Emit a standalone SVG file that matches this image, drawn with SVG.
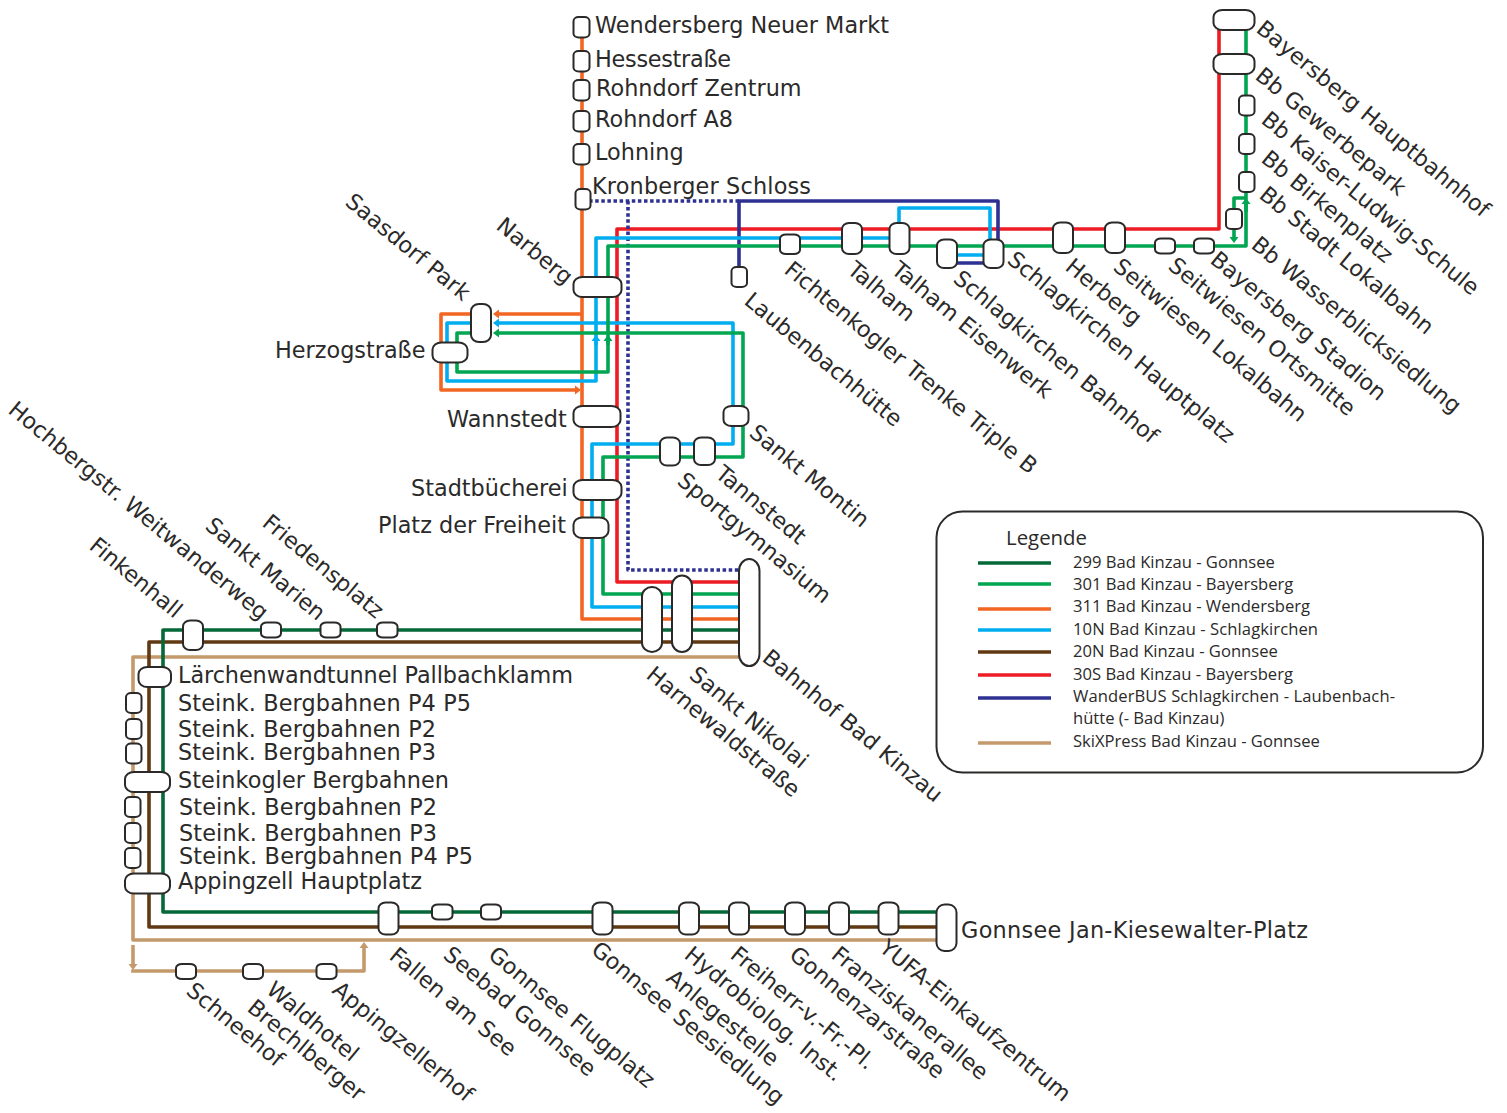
<svg xmlns="http://www.w3.org/2000/svg" width="1507" height="1113" viewBox="0 0 1507 1113">
<style>
.n{fill:#fff;stroke:#2b2a29;stroke-width:2}
.t{font-family:"DejaVu Sans",sans-serif;font-size:22.35px;fill:#2b2a29}
.l{font-family:"Open Sans","Noto Sans",sans-serif;font-size:16.6px;fill:#2b2a29}
.c{fill:none;stroke-width:3.6;stroke-linejoin:round}
.dg{stroke:#056839}.gr{stroke:#00a651}.or{stroke:#f26522}.bl{stroke:#00aeef}.br{stroke:#603913}.re{stroke:#ed1c24}.na{stroke:#2e3192}.ta{stroke:#c49a6c}
</style>
<defs>
<marker id="agr" markerUnits="userSpaceOnUse" markerWidth="12" markerHeight="12" refX="8" refY="6" orient="auto"><path d="M11 6L5 1.500V10.500Z" fill="#00a651"/></marker>
<marker id="aor" markerUnits="userSpaceOnUse" markerWidth="12" markerHeight="12" refX="8" refY="6" orient="auto"><path d="M11 6L5 1.500V10.500Z" fill="#f26522"/></marker>
<marker id="abl" markerUnits="userSpaceOnUse" markerWidth="12" markerHeight="12" refX="8" refY="6" orient="auto"><path d="M11 6L5 1.500V10.500Z" fill="#00aeef"/></marker>
<marker id="ata" markerUnits="userSpaceOnUse" markerWidth="12" markerHeight="12" refX="8" refY="6" orient="auto"><path d="M11 6L5 1.500V10.500Z" fill="#c49a6c"/></marker>
</defs>
<g id="connectors">
<path class="c ta" d="M740 657H133V940H945"/>
<path class="c ta" d="M133 945V967" marker-end="url(#ata)"/>
<path class="c ta" d="M131.200 971H364V945" marker-end="url(#ata)"/>
<path class="c br" d="M740 642H149V927H945"/>
<path class="c dg" d="M740 630H163V912H945"/>
<path class="c or" d="M582 20V619H740"/>
<path class="c or" d="M582 314H496" marker-end="url(#aor)"/>
<path class="c or" d="M475 314H441V390H578" marker-end="url(#aor)"/>
<path class="c re" d="M740 582H617V229H1219V20"/>
<path class="c na" d="M739 277V201H998V250M957 263H993"/>
<path class="c na" stroke-dasharray="3.500 2.600" d="M583 201H739M628 201V570H740"/>
<path class="c bl" d="M740 607H592V444H733V323H496" marker-end="url(#abl)"/>
<path class="c bl" d="M475 323H447V381H596V238H899V208H990V255H947"/>
<path class="c bl" d="M596 345V338" marker-end="url(#abl)"/>
<path class="c gr" d="M740 594H603V457H743V333H496" marker-end="url(#agr)"/>
<path class="c gr" d="M475 333H457V372H608V246H1246V20"/>
<path class="c gr" d="M608 345V338" marker-end="url(#agr)"/>
<path class="c gr" d="M1246 212V201" marker-end="url(#agr)"/>
<path class="c gr" d="M1234 209V198H1246"/>
<path class="c gr" d="M1234 225V240" marker-end="url(#agr)"/>
</g>
<g id="n-wendersberg"><rect class="n" x="573.500" y="17" width="16" height="20.500" rx="5" ry="4"/><text class="t" x="595" y="33">Wendersberg Neuer Markt</text></g>
<g id="n-hesse"><rect class="n" x="573.500" y="51" width="16" height="20.500" rx="5" ry="4"/><text class="t" x="595" y="67" textLength="136">Hessestraße</text></g>
<g id="n-rohndorf-z"><rect class="n" x="573.500" y="80" width="16" height="20.500" rx="5" ry="4"/><text class="t" x="596" y="96">Rohndorf Zentrum</text></g>
<g id="n-rohndorf-a8"><rect class="n" x="573.500" y="111" width="16" height="20.500" rx="5" ry="4"/><text class="t" x="595" y="127">Rohndorf A8</text></g>
<g id="n-lohning"><rect class="n" x="573.500" y="144" width="16" height="20.500" rx="5" ry="4"/><text class="t" x="595" y="160">Lohning</text></g>
<g id="n-kronberger"><rect class="n" x="575.500" y="189" width="15" height="20.500" rx="5" ry="4"/><text class="t" x="592" y="194" textLength="219">Kronberger Schloss</text></g>
<g id="n-narberg"><rect class="n" x="573.500" y="277" width="48" height="20" rx="9" ry="7"/><text class="t" transform="rotate(39.500 495 228)" x="495" y="228">Narberg</text></g>
<g id="n-saasdorf"><rect class="n" x="471" y="304" width="20" height="38" rx="8" ry="7"/><text class="t" transform="rotate(39.500 344 204)" x="344" y="204">Saasdorf Park</text></g>
<g id="n-herzog"><rect class="n" x="432.500" y="342.500" width="35" height="20" rx="9" ry="7"/><text class="t" x="275" y="358">Herzogstraße</text></g>
<g id="n-wannstedt"><rect class="n" x="573.500" y="406" width="47" height="21" rx="9" ry="7"/><text class="t" x="447" y="427">Wannstedt</text></g>
<g id="n-stadtb"><rect class="n" x="573.500" y="480" width="48" height="20" rx="9" ry="7"/><text class="t" x="411" y="496">Stadtbücherei</text></g>
<g id="n-platz"><rect class="n" x="573.500" y="517.500" width="35" height="20.500" rx="9" ry="7"/><text class="t" x="378" y="533">Platz der Freiheit</text></g>
<g id="n-montin"><rect class="n" x="723.500" y="406" width="25" height="20" rx="8" ry="6"/><text class="t" transform="rotate(39.500 748 435)" x="748" y="435">Sankt Montin</text></g>
<g id="n-sportg"><rect class="n" x="660" y="437.500" width="20" height="28" rx="7" ry="6"/><text class="t" transform="rotate(39.500 676 483)" x="676" y="483">Sportgymnasium</text></g>
<g id="n-tannstedt"><rect class="n" x="694" y="437.500" width="21" height="27.500" rx="7" ry="6"/><text class="t" transform="rotate(39.500 714 476)" x="714" y="476">Tannstedt</text></g>
<g id="n-harne"><rect class="n" x="642" y="587" width="20" height="65" rx="10" ry="9"/><text class="t" transform="rotate(39.500 645 677)" x="645" y="677">Harnewaldstraße</text></g>
<g id="n-nikolai"><rect class="n" x="672" y="575.500" width="20" height="76.500" rx="10" ry="10"/><text class="t" transform="rotate(39.500 688 677)" x="688" y="677">Sankt Nikolai</text></g>
<g id="n-kinzau"><rect class="n" x="739" y="559" width="20.500" height="107" rx="10.200" ry="12"/><text class="t" transform="rotate(39.500 761 660)" x="761" y="660">Bahnhof Bad Kinzau</text></g>
<g id="n-lauben"><rect class="n" x="731.500" y="267" width="15.500" height="20" rx="5" ry="4"/><text class="t" transform="rotate(39.500 743 303)" x="743" y="303">Laubenbachhütte</text></g>
<g id="n-ficht"><rect class="n" x="780" y="234.500" width="20" height="19.500" rx="6" ry="4"/><text class="t" transform="rotate(39.500 783 272)" x="783" y="272">Fichtenkogler Trenke Triple B</text></g>
<g id="n-talham"><rect class="n" x="842" y="223" width="20" height="31" rx="7" ry="6"/><text class="t" transform="rotate(39.500 846 272)" x="846" y="272">Talham</text></g>
<g id="n-talham-e"><rect class="n" x="889.500" y="223" width="20" height="31" rx="7" ry="6"/><text class="t" transform="rotate(39.500 890 272)" x="890" y="272">Talham Eisenwerk</text></g>
<g id="n-schlag-b"><rect class="n" x="937" y="239.500" width="20" height="28.500" rx="7" ry="6"/><text class="t" transform="rotate(39.500 952 281)" x="952" y="281">Schlagkirchen Bahnhof</text></g>
<g id="n-schlag-h"><rect class="n" x="983.500" y="239.500" width="20" height="28.500" rx="7" ry="6"/><text class="t" transform="rotate(39.500 1006 262)" x="1006" y="262">Schlagkirchen Hauptplatz</text></g>
<g id="n-herberg"><rect class="n" x="1053" y="222.500" width="20" height="30.500" rx="7" ry="6"/><text class="t" transform="rotate(39.500 1064 269)" x="1064" y="269">Herberg</text></g>
<g id="n-seit-l"><rect class="n" x="1105" y="222.500" width="20" height="30.500" rx="7" ry="6"/><text class="t" transform="rotate(39.500 1112 269)" x="1112" y="269">Seitwiesen Lokalbahn</text></g>
<g id="n-seit-o"><rect class="n" x="1155" y="238.500" width="20" height="15" rx="6" ry="4"/><text class="t" transform="rotate(39.500 1167 268)" x="1167" y="268">Seitwiesen Ortsmitte</text></g>
<g id="n-bay-st"><rect class="n" x="1194" y="238.500" width="20" height="15" rx="6" ry="4"/><text class="t" transform="rotate(39.500 1209 262)" x="1209" y="262">Bayersberg Stadion</text></g>
<g id="n-bb-wass"><rect class="n" x="1226" y="209" width="16" height="20" rx="5" ry="4"/><text class="t" transform="rotate(39.500 1250 247)" x="1250" y="247">Bb Wasserblicksiedlung</text></g>
<g id="n-bb-stadt"><rect class="n" x="1239" y="172" width="15.500" height="20" rx="5" ry="4"/><text class="t" transform="rotate(39.500 1258 197)" x="1258" y="197">Bb Stadt Lokalbahn</text></g>
<g id="n-bb-birk"><rect class="n" x="1239" y="134" width="15.500" height="20" rx="5" ry="4"/><text class="t" transform="rotate(39.500 1260 161)" x="1260" y="161">Bb Birkenplatz</text></g>
<g id="n-bb-kaiser"><rect class="n" x="1239" y="95.500" width="15.500" height="20" rx="5" ry="4"/><text class="t" transform="rotate(39.500 1260 122)" x="1260" y="122">Bb Kaiser-Ludwig-Schule</text></g>
<g id="n-bb-gew"><rect class="n" x="1213.500" y="54" width="41" height="20" rx="9" ry="7"/><text class="t" transform="rotate(39.500 1254 78)" x="1254" y="78">Bb Gewerbepark</text></g>
<g id="n-bay-hbf"><rect class="n" x="1213.500" y="10" width="41" height="20" rx="9" ry="7"/><text class="t" transform="rotate(39.500 1255 31)" x="1255" y="31">Bayersberg Hauptbahnhof</text></g>
<g id="n-fink"><rect class="n" x="183" y="620.500" width="20" height="29.500" rx="7" ry="6"/><text class="t" transform="rotate(39.500 88 548)" x="88" y="548">Finkenhall</text></g>
<g id="n-hochb"><rect class="n" x="261" y="622.500" width="20" height="15" rx="6" ry="4"/><text class="t" transform="rotate(39.500 7 412)" x="7" y="412">Hochbergstr. Weitwanderweg</text></g>
<g id="n-marien"><rect class="n" x="320.500" y="622.500" width="20" height="15" rx="6" ry="4"/><text class="t" transform="rotate(39.500 204 528)" x="204" y="528">Sankt Marien</text></g>
<g id="n-frieden"><rect class="n" x="377" y="622.500" width="20.500" height="15" rx="6" ry="4"/><text class="t" transform="rotate(39.500 261 525)" x="261" y="525">Friedensplatz</text></g>
<g id="n-laerchen"><rect class="n" x="138.500" y="667" width="32.500" height="20" rx="9" ry="7"/><text class="t" x="178" y="683" textLength="395">Lärchenwandtunnel Pallbachklamm</text></g>
<g id="n-s1"><rect class="n" x="126" y="693" width="15.500" height="20" rx="5" ry="4"/><text class="t" x="178" y="711" textLength="293">Steink. Bergbahnen P4 P5</text></g>
<g id="n-s2"><rect class="n" x="126" y="719" width="15.500" height="20" rx="5" ry="4"/><text class="t" x="178" y="737" textLength="258">Steink. Bergbahnen P2</text></g>
<g id="n-s3"><rect class="n" x="126" y="743.500" width="15.500" height="20" rx="5" ry="4"/><text class="t" x="178" y="760" textLength="258">Steink. Bergbahnen P3</text></g>
<g id="n-steinkogler"><rect class="n" x="125" y="772" width="45" height="20" rx="9" ry="7"/><text class="t" x="178" y="788" textLength="271">Steinkogler Bergbahnen</text></g>
<g id="n-s4"><rect class="n" x="125" y="797" width="15.500" height="20" rx="5" ry="4"/><text class="t" x="179" y="815" textLength="258">Steink. Bergbahnen P2</text></g>
<g id="n-s5"><rect class="n" x="125" y="823" width="15.500" height="20" rx="5" ry="4"/><text class="t" x="179" y="841" textLength="258">Steink. Bergbahnen P3</text></g>
<g id="n-s6"><rect class="n" x="125" y="848" width="15.500" height="20" rx="5" ry="4"/><text class="t" x="179" y="864" textLength="294">Steink. Bergbahnen P4 P5</text></g>
<g id="n-appingzell"><rect class="n" x="125" y="873.500" width="45" height="20" rx="9" ry="7"/><text class="t" x="178" y="889" textLength="244">Appingzell Hauptplatz</text></g>
<g id="n-fallen"><rect class="n" x="378.500" y="902.500" width="20" height="32" rx="7" ry="6"/><text class="t" transform="rotate(39.500 388 958)" x="388" y="958">Fallen am See</text></g>
<g id="n-seebad"><rect class="n" x="432" y="904.500" width="20.500" height="15" rx="6" ry="4"/><text class="t" transform="rotate(39.500 442 957)" x="442" y="957">Seebad Gonnsee</text></g>
<g id="n-flug"><rect class="n" x="481" y="904.500" width="20" height="15" rx="6" ry="4"/><text class="t" transform="rotate(39.500 487 957)" x="487" y="957">Gonnsee Flugplatz</text></g>
<g id="n-seesied"><rect class="n" x="592.500" y="902.500" width="20" height="32" rx="7" ry="6"/><text class="t" transform="rotate(39.500 590 952)" x="590" y="952">Gonnsee Seesiedlung</text></g>
<g id="n-hydro"><rect class="n" x="679" y="902.500" width="20" height="32" rx="7" ry="6"/><text class="t" transform="rotate(39.500 683 957)" x="683" y="957">Hydrobiolog. Inst.</text><text class="t" transform="rotate(39.500 665 980)" x="665" y="980">Anlegestelle</text></g>
<g id="n-freiherr"><rect class="n" x="729" y="902.500" width="20" height="32" rx="7" ry="6"/><text class="t" transform="rotate(39.500 729 957)" x="729" y="957">Freiherr-v.-Fr.-Pl.</text></g>
<g id="n-gonnenzar"><rect class="n" x="785" y="902.500" width="20" height="32" rx="7" ry="6"/><text class="t" transform="rotate(39.500 788 957)" x="788" y="957">Gonnenzarstraße</text></g>
<g id="n-franz"><rect class="n" x="829" y="902.500" width="20" height="32" rx="7" ry="6"/><text class="t" transform="rotate(39.500 830 957)" x="830" y="957">Franziskanerallee</text></g>
<g id="n-yufa"><rect class="n" x="878.500" y="902.500" width="20" height="32" rx="7" ry="6"/><text class="t" transform="rotate(39.500 878 950)" x="878" y="950">YUFA-Einkaufzentrum</text></g>
<g id="n-jan"><rect class="n" x="936.500" y="904.500" width="20" height="46.500" rx="8" ry="8"/><text class="t" x="961" y="938" textLength="347">Gonnsee Jan-Kiesewalter-Platz</text></g>
<g id="n-schneehof"><rect class="n" x="176" y="964" width="20" height="15" rx="6" ry="4"/><text class="t" transform="rotate(39.500 185 993)" x="185" y="993">Schneehof</text></g>
<g id="n-waldhotel"><rect class="n" x="243" y="964" width="20" height="15" rx="6" ry="4"/><text class="t" transform="rotate(39.500 265 992)" x="265" y="992">Waldhotel</text><text class="t" transform="rotate(39.500 246 1010)" x="246" y="1010">Brechlberger</text></g>
<g id="n-apphof"><rect class="n" x="316.500" y="964" width="20" height="15" rx="6" ry="4"/><text class="t" transform="rotate(39.500 331 992)" x="331" y="992">Appingzellerhof</text></g>
<g id="legend">
<rect x="936.500" y="511.500" width="546.500" height="261" rx="26" fill="#fff" stroke="#2b2a29" stroke-width="2"/>
<text class="l" style="font-size:20.400px" x="1006" y="545">Legende</text>
<path class="c dg" d="M978 563H1051"/><text class="l" x="1073" y="568">299 Bad Kinzau - Gonnsee</text>
<path class="c gr" d="M978 584H1051"/><text class="l" x="1073" y="590">301 Bad Kinzau - Bayersberg</text>
<path class="c or" d="M978 609H1051"/><text class="l" x="1073" y="612">311 Bad Kinzau - Wendersberg</text>
<path class="c bl" d="M978 630H1051"/><text class="l" x="1073" y="635" textLength="245">10N Bad Kinzau - Schlagkirchen</text>
<path class="c br" d="M978 652H1051"/><text class="l" x="1073" y="657">20N Bad Kinzau - Gonnsee</text>
<path class="c re" d="M978 675H1051"/><text class="l" x="1073" y="680">30S Bad Kinzau - Bayersberg</text>
<path class="c na" d="M978 698H1051"/><text class="l" x="1073" y="702" textLength="322">WanderBUS Schlagkirchen - Laubenbach-</text><text class="l" x="1073" y="724">hütte (- Bad Kinzau)</text>
<path class="c ta" d="M978 743H1051"/><text class="l" x="1073" y="747">SkiXPress Bad Kinzau - Gonnsee</text>
</g>
</svg>
